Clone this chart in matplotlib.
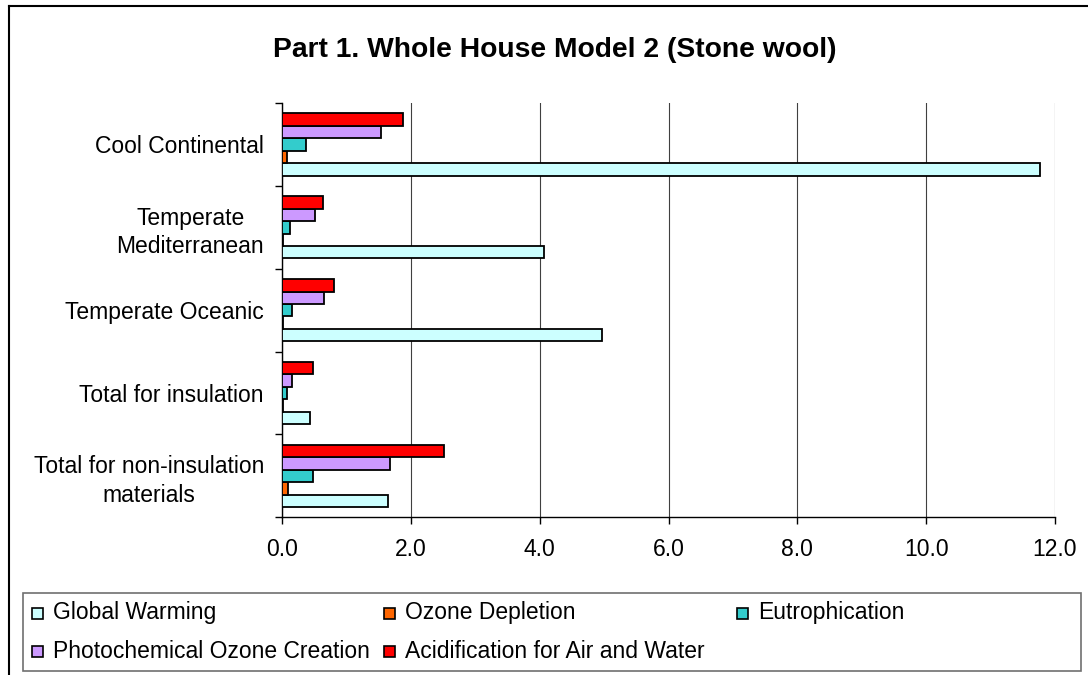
import matplotlib
matplotlib.use('Agg')
import matplotlib.pyplot as plt
from matplotlib.patches import Rectangle
from matplotlib.lines import Line2D
import numpy as np

plt.rcParams['font.family'] = ['Liberation Sans', 'DejaVu Sans']

# Data
categories = ['Cool Continental', 'Temperate\nMediterranean', 'Temperate Oceanic',
              'Total for insulation', 'Total for non-insulation\nmaterials']
series_names = ['Global Warming', 'Ozone Depletion', 'Eutrophication',
                'Photochemical Ozone Creation', 'Acidification for Air and Water']
global_warming = [11.77, 4.06, 4.97, 0.44, 1.65]
ozone_depletion = [0.07, 0.01, 0.01, 0.01, 0.09]
eutrophication = [0.37, 0.13, 0.16, 0.07, 0.48]
photochemical = [1.54, 0.52, 0.65, 0.15, 1.68]
acidification = [1.88, 0.63, 0.80, 0.48, 2.51]
x_ticks = [0.0, 2.0, 4.0, 6.0, 8.0, 10.0, 12.0]
title = 'Part 1. Whole House Model 2 (Stone wool)'

colors = ['#CCFFFF', '#FF6600', '#33CCCC', '#CC99FF', '#FF0000']

W, H = 1088, 675


def fx(px):
    return px / W


def fy(py):
    return 1 - py / H


fig = plt.figure(figsize=(W / 100, H / 100), dpi=100)
ax = fig.add_axes([fx(282), fy(517.3), (1055 - 282) / W, (517.3 - 103) / H])

n = len(categories)
centers = np.arange(n)[::-1]
bar_h = 0.15
values = [global_warming, ozone_depletion, eutrophication, photochemical, acidification]
for k, (vals, col, name) in enumerate(zip(values, colors, series_names)):
    offset = (k - 2) * bar_h
    ax.barh(centers + offset, vals, height=bar_h, color=col, edgecolor='black',
            linewidth=1.3, zorder=3, label=name)

ax.set_xlim(0, 12)
ax.set_ylim(-0.5, n - 0.5)
ax.set_xticks(x_ticks, labels=[f'{v:.1f}' for v in x_ticks])
ax.xaxis.grid(True, color='#404040', linewidth=0.8)
ax.set_axisbelow(True)

ax.set_yticks(np.arange(n + 1) - 0.5, labels=[''] * (n + 1))
ax.set_yticks(centers, labels=categories, minor=True)
ax.tick_params(axis='y', which='minor', length=0, pad=13, labelsize=16.5)
ax.tick_params(axis='y', which='major', length=5, width=1, direction='out')
ax.tick_params(axis='x', length=5, width=1, pad=10, labelsize=16.5)
for lab in ax.get_yticklabels(minor=True):
    lab.set_multialignment('center')
    lab.set_linespacing(1.3)

for side in ('top', 'right'):
    ax.spines[side].set_visible(False)
for side in ('left', 'bottom'):
    ax.spines[side].set_color('black')
    ax.spines[side].set_linewidth(1.0)

fig.text(fx(555), fy(57), title, ha='center', va='baseline',
         fontsize=20.3, fontweight='bold')

# Legend laid out on an equal-width column grid
fig.add_artist(Rectangle((fx(23), fy(671)), fx(1081) - fx(23), fy(593) - fy(671),
                         fill=False, edgecolor='#707070', linewidth=1.2,
                         transform=fig.transFigure))
col_x = [32, 384, 737]
row_y = [613, 651]
sq = 11
for i, (name, col) in enumerate(zip(series_names, colors)):
    cx = col_x[i % 3]
    ry = row_y[i // 3]
    fig.add_artist(Rectangle((fx(cx), fy(ry + sq / 2)), sq / W, sq / H,
                             facecolor=col, edgecolor='black', linewidth=1.2,
                             transform=fig.transFigure))
    fig.text(fx(cx + 21), fy(ry), name, ha='left', va='center', fontsize=16.5)

# Chart area frame
fig.add_artist(Line2D([fx(9), fx(9)], [fy(6), 0], color='black', linewidth=1.5,
                      transform=fig.transFigure))
fig.add_artist(Line2D([fx(9), 1], [fy(6), fy(6)], color='black', linewidth=1.5,
                      transform=fig.transFigure))

fig.savefig('out.png', dpi=100)
